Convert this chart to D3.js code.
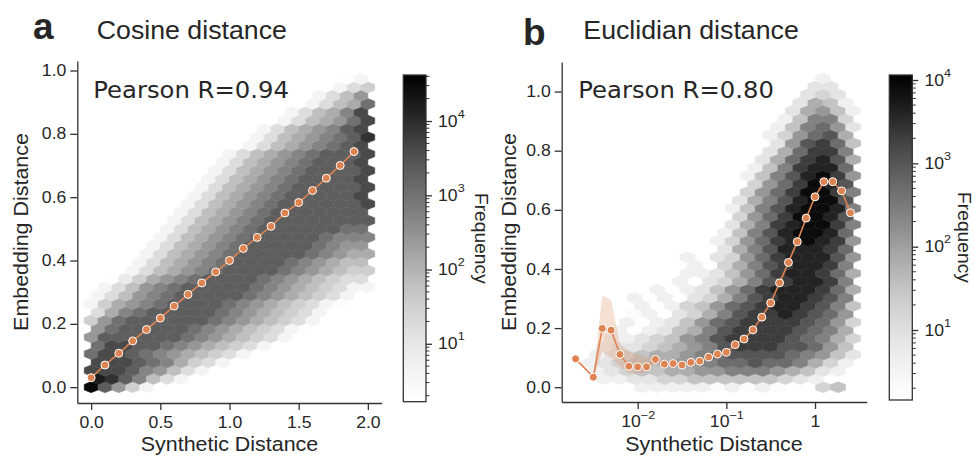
<!DOCTYPE html>
<html>
<head>
<meta charset="utf-8">
<script src="https://cdn.jsdelivr.net/npm/d3@7"></script>
<style>
  body { margin: 0; background: #fff; }
  text { font-family: "Liberation Sans", Arial, sans-serif; fill: #262626; }
  .mono { font-family: "DejaVu Sans", sans-serif; }
</style>
</head>
<body>
<svg id="chart" width="974" height="459"></svg>
<script>
// ---------- data ----------
// panel a: binned mean of embedding distance vs synthetic (cosine) distance
const cosX = [0.0, 0.1, 0.2, 0.3, 0.4, 0.5, 0.6, 0.7, 0.8, 0.9, 1.0, 1.1, 1.2, 1.3, 1.4, 1.5, 1.6, 1.7, 1.8, 1.9];
const cosY = [0.030, 0.070, 0.107, 0.146, 0.182, 0.218, 0.256, 0.293, 0.329, 0.364, 0.400, 0.438, 0.473, 0.508, 0.550, 0.583, 0.621, 0.660, 0.700, 0.744];

// panel b: x in log10 units
const eucLogX = [-2.7, -2.5, -2.4, -2.3, -2.2, -2.1, -2.0, -1.9, -1.8, -1.7, -1.6, -1.5, -1.4, -1.3, -1.2, -1.1, -1.0, -0.9, -0.8, -0.7, -0.6, -0.5, -0.4, -0.3, -0.2, -0.1, 0.0, 0.1, 0.2, 0.3, 0.4];
const eucY = [0.096, 0.034, 0.199, 0.193, 0.111, 0.071, 0.069, 0.069, 0.094, 0.078, 0.080, 0.075, 0.084, 0.088, 0.102, 0.112, 0.118, 0.144, 0.163, 0.194, 0.237, 0.285, 0.353, 0.422, 0.492, 0.572, 0.644, 0.695, 0.695, 0.664, 0.590];
// confidence band where it is wider than the line
const bandLogX = [-2.5, -2.4, -2.3, -2.2, -2.1, -2.0, -1.9, -1.8, -1.7];
const bandLo = [0.030, 0.120, 0.100, 0.070, 0.047, 0.046, 0.050, 0.085, 0.075];
const bandHi = [0.040, 0.310, 0.295, 0.145, 0.120, 0.110, 0.100, 0.103, 0.081];

// hexbin cells: one string per hex row (bottom first), one hex digit per cell,
// count = 2^digit, "." = empty. Odd rows are shifted half a cell right.
const cosHexRows = [
  "fb852",
  "edb9642",
  "cccb98642",
  "cccba97542",
  "accba9876542",
  "accbba9876542",
  "8bbbbbba9876542",
  "8abbbbba98765421",
  "58abbbbbba9876542",
  "479abbbbba9876542",
  "25789abbbba98765421",
  "24689abbbbba9876542",
  ".24689abbbbba98765422",
  ".135789abbbba9876544",
  "...246789abbbba987655",
  "...246789abbbba98766",
  "....246789abbbbba9877",
  "....246789abbbbba988",
  ".....246789abbbbba999",
  ".....246789abbbbbbaa",
  "......246789abbbbbbbb",
  "......246789abbbbbbb",
  ".......246789abbbbbbc",
  ".......246789abbbbbc",
  "........246789abbbbbc",
  "........246789abbbbc",
  ".........246789abbbbc",
  ".........246789abbbc",
  "..........246789abbbc",
  "...........246789abc",
  "............246789abd",
  "............246789bc",
  "..............24678ac",
  "..............24679c",
  "................2467a",
  "................2468",
  "..................245",
  "..................12"
];
const eucHexRows = [
  ".....2222212121..45",
  "..223344555555432",
  "..23455667788876532",
  ".23455677899a998642",
  "..234566789aaaa98753",
  "..23345678abbbaa975",
  "...2234578abbbba9864",
  "...2.23568abbbba986",
  "....2.23579abbbba974",
  "....12.3468abbcba97",
  ".....2.24579abccba85",
  "....2.2.3468abccba8",
  "......2.23579bcccb96",
  ".......2.3468abccb8",
  "........223579bccb96",
  "........2.468abccb8",
  "........2.3479bccca7",
  "..........368acccb9",
  "..........2479bcdcb7",
  "..........258acddc9",
  "...........368bcddb8",
  "...........479bddca",
  "...........258acddc8",
  "...........368acdda",
  "............479bddb8",
  "............479bdca",
  "............258acdb7",
  "............258bcc9",
  ".............369bca6",
  ".............369bb8",
  "..............37ab95",
  ".............2479a6",
  "..............258973",
  "..............25884",
  "...............36752",
  "...............3652",
  "................343",
  "................33",
  ".................2"
];

const cosXTicks = [0, 0.5, 1.0, 1.5, 2.0];
const yTicks = [0, 0.2, 0.4, 0.6, 0.8, 1.0];
const eucXTicks = [0.01, 0.1, 1];
const cbTicks = [10, 100, 1000, 10000];

// ---------- setup ----------
const svg = d3.select("#chart");
const ORANGE = "#dd8452";
const INK = "#333";
const STRETCH = 1.1;

const xa = d3.scaleLinear().domain([-0.1, 2.1]).range([77.3, 381.7]);
const ya = d3.scaleLinear().domain([-0.05, 1.03]).range([403, 61]);
const xb = d3.scaleLog().domain([10 ** -2.857, 10 ** 0.583]).range([561.7, 866.7]);
const yb = d3.scaleLinear().domain([-0.05, 1.1]).range([402, 62]);

const colorA = d3.scaleSequentialLog(d3.interpolateGreys).domain([10 ** 0.22, 10 ** 4.62]);
const colorB = d3.scaleSequentialLog(d3.interpolateGreys).domain([10 ** 0.16, 10 ** 4.06]);

function drawHexes(rows, grid, xPx, y, color) {
  const hw = Math.abs(xPx(grid.x0 + grid.sx) - xPx(grid.x0)) / 2;
  const ht = Math.abs(y(grid.sy) - y(0)) / 3;
  const path = `M${-hw},${-ht / 2}L0,${-ht}L${hw},${-ht / 2}L${hw},${ht / 2}L0,${ht}L${-hw},${ht / 2}Z`;
  const cells = [];
  rows.forEach((row, k) => {
    [...row].forEach((ch, i) => {
      if (ch === ".") return;
      cells.push({
        x: grid.x0 + i * grid.sx + (k % 2) * grid.sx / 2,
        y: k * grid.sy / 2,
        count: 2 ** parseInt(ch, 16)
      });
    });
  });
  svg.append("g")
    .selectAll("path")
    .data(cells)
    .join("path")
    .attr("d", path)
    .attr("transform", d => `translate(${xPx(d.x)},${y(d.y)})`)
    .attr("fill", d => color(d.count))
    .attr("stroke", d => color(d.count))
    .attr("stroke-width", 0.5);
}

function drawLine(xs, ys, xPx, y) {
  const pts = xs.map((v, i) => [xPx(v), y(ys[i])]);
  svg.append("path")
    .attr("d", d3.line()(pts))
    .attr("fill", "none")
    .attr("stroke", ORANGE)
    .attr("stroke-width", 1.6);
  svg.append("g")
    .selectAll("circle")
    .data(pts)
    .join("circle")
    .attr("cx", d => d[0])
    .attr("cy", d => d[1])
    .attr("r", 4)
    .attr("fill", ORANGE)
    .attr("stroke", "#fff")
    .attr("stroke-width", 1);
}

function styleAxis(g) {
  g.attr("font-family", null).attr("font-size", null);
  g.select(".domain").attr("stroke", INK).attr("stroke-width", 1.3);
  g.selectAll(".tick line").attr("stroke", INK).attr("stroke-width", 1.3);
  g.selectAll(".tick text").style("font-size", "16px");
}

function supLabel(t, base, sup, dy, size) {
  t.text(null);
  t.append("tspan").text(base);
  if (sup !== null) {
    t.append("tspan").attr("dy", dy).style("font-size", size + "px").text(sup);
  }
}

function label(txt, x, y, opts = {}) {
  return svg.append("text")
    .attr("transform", `translate(${x},${y}) rotate(${opts.rot || 0}) scale(${opts.sx || STRETCH},1)`)
    .attr("text-anchor", opts.anchor || "start")
    .attr("class", opts.cls || null)
    .style("font-size", opts.size + "px")
    .style("font-weight", opts.weight || "normal")
    .text(txt);
}

function drawColorbar(x, y0, y1, w, color, id, labelX) {
  const s = d3.scaleLog().domain(color.domain()).range([y1, y0]);
  const grad = svg.append("defs").append("linearGradient")
    .attr("id", id).attr("x1", 0).attr("y1", 1).attr("x2", 0).attr("y2", 0);
  d3.range(0, 1.0001, 0.05).forEach(t => {
    grad.append("stop").attr("offset", t).attr("stop-color", d3.interpolateGreys(t));
  });
  svg.append("rect")
    .attr("x", x).attr("y", y0).attr("width", w).attr("height", y1 - y0)
    .attr("fill", `url(#${id})`).attr("stroke", INK).attr("stroke-width", 1.3);
  const [lo, hi] = color.domain();
  const minors = [];
  [1, 10, 100, 1000, 10000].forEach(d => {
    for (let m = 2; m <= 9; m++) if (m * d >= lo && m * d <= hi) minors.push(m * d);
  });
  svg.append("g").selectAll("line").data(minors).join("line")
    .attr("x1", x + w).attr("x2", x + w + 3.5)
    .attr("y1", d => s(d)).attr("y2", d => s(d))
    .attr("stroke", INK).attr("stroke-width", 1);
  const ax = svg.append("g")
    .attr("transform", `translate(${x + w},0)`)
    .call(d3.axisRight(s).tickValues(cbTicks).tickSize(6).tickPadding(5).tickSizeOuter(0));
  styleAxis(ax);
  ax.select(".domain").remove();
  ax.selectAll(".tick text").each(function (d) {
    const t = d3.select(this);
    t.attr("transform", `scale(${STRETCH},1)`);
    supLabel(t, "10", String(Math.round(Math.log10(d))), "-9", 11.5);
  });
  label("Frequency", labelX, (y0 + y1) / 2, { rot: 90, anchor: "middle", size: 17.5 });
}

// ---------- panel a ----------
drawHexes(cosHexRows, { x0: 0, sx: 0.1, sy: 0.0526 }, v => xa(v), ya, colorA);
drawLine(cosX, cosY, v => xa(v), ya);

const axA = svg.append("g").attr("transform", "translate(0,403)")
  .call(d3.axisBottom(xa).tickValues(cosXTicks).tickFormat(d3.format(".1f")).tickSize(7).tickPadding(6.5).tickSizeOuter(0));
styleAxis(axA);
axA.selectAll(".tick text").attr("transform", `scale(${STRETCH},1)`);
const ayA = svg.append("g").attr("transform", "translate(77.3,0)")
  .call(d3.axisLeft(ya).tickValues(yTicks).tickFormat(d3.format(".1f")).tickSize(7).tickPadding(3).tickSizeOuter(0));
styleAxis(ayA);
ayA.selectAll(".tick text").attr("transform", `scale(${STRETCH},1)`);

label("a", 33, 38.5, { size: 37, weight: "bold", sx: 1 });
label("Cosine distance", 96.7, 39, { size: 25, sx: 1.07 });
label("Pearson R=0.94", 93.3, 98.3, { size: 22.5, cls: "mono", sx: 1.08 });
label("Synthetic Distance", 229.5, 450.5, { size: 19.5, anchor: "middle" });
label("Embedding Distance", 28, 232, { size: 19.5, anchor: "middle", rot: -90 });
drawColorbar(403.3, 75, 401.7, 22.7, colorA, "cbA", 475);

// ---------- panel b ----------
drawHexes(eucHexRows, { x0: -2.8, sx: 0.17, sy: 0.055 }, v => xb(10 ** v), yb, colorB);

const bandPts = bandLogX.map((v, i) => [xb(10 ** v), yb(bandLo[i]), yb(bandHi[i])]);
svg.append("path")
  .attr("d", d3.area().x(d => d[0]).y0(d => d[1]).y1(d => d[2])(bandPts))
  .attr("fill", ORANGE).attr("fill-opacity", 0.25).attr("stroke", "none");
drawLine(eucLogX, eucY, v => xb(10 ** v), yb);

const axB = svg.append("g").attr("transform", "translate(0,402)")
  .call(d3.axisBottom(xb).tickValues(eucXTicks).tickSize(7).tickPadding(6.5).tickSizeOuter(0));
styleAxis(axB);
axB.selectAll(".tick text").each(function (d) {
  const t = d3.select(this);
  t.attr("transform", `scale(${STRETCH},1)`);
  if (d === 1) supLabel(t, "1", null);
  else supLabel(t, "10", "\u2212" + Math.round(-Math.log10(d)), "-8", 11.5);
});
const ayB = svg.append("g").attr("transform", "translate(561.7,0)")
  .call(d3.axisLeft(yb).tickValues(yTicks).tickFormat(d3.format(".1f")).tickSize(7).tickPadding(3).tickSizeOuter(0));
styleAxis(ayB);
ayB.selectAll(".tick text").attr("transform", `scale(${STRETCH},1)`);

label("b", 523, 45, { size: 37, weight: "bold", sx: 1 });
label("Euclidian distance", 583.3, 39, { size: 25, sx: 1.07 });
label("Pearson R=0.80", 578.3, 98.3, { size: 22.5, cls: "mono", sx: 1.08 });
label("Synthetic Distance", 714, 450.5, { size: 19.5, anchor: "middle" });
label("Embedding Distance", 516, 232, { size: 19.5, anchor: "middle", rot: -90 });
drawColorbar(889.3, 75, 400, 23, colorB, "cbB", 957.5);
</script>
</body>
</html>
